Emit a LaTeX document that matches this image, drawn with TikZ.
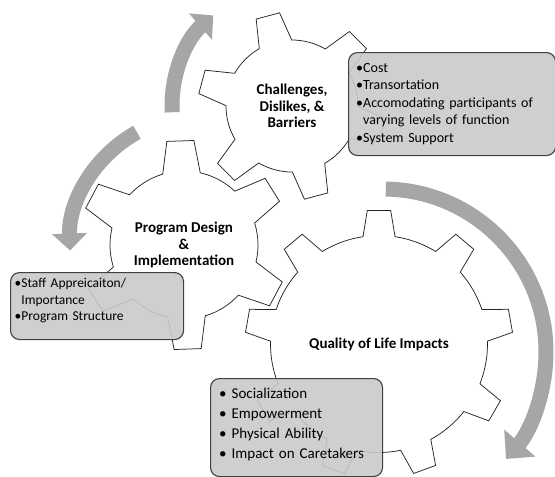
\documentclass[tikz,border=0pt]{standalone}
\usepackage{fontspec}
\setmainfont{Carlito}
\usetikzlibrary{arrows.meta,positioning,calc}
\definecolor{arrowgrey}{HTML}{A6A6A6}
\definecolor{boxgrey}{HTML}{CACACA}
\definecolor{edgegrey}{HTML}{404040}
\definecolor{gearedge}{HTML}{262626}
\tikzset{
  gearshape/.style  = {draw=gearedge, line width=0.75pt, fill=white, line join=miter},
  cycarrow/.style   = {draw=arrowgrey, line width=15pt, -{Triangle[width=34pt, length=17pt]}},
  infobox/.style    = {draw=edgegrey, line width=1.1pt, fill=boxgrey, fill opacity=0.9,
                       rounded corners=9pt, anchor=north west, inner sep=0pt},
  geartitle/.style  = {font=\fontsize{15}{16.5}\selectfont\bfseries, align=center, inner sep=0pt},
  itemtext/.style   = {anchor=base west, inner sep=0pt, align=left},
}
% gear outline: centre, outer radius, root radius, teeth, first tooth angle,
% half angle at the tip, half angle at the root
\newcommand{\gear}[7]{%
  \pgfmathsetmacro\gstep{360/#4}
  \draw[gearshape, shift={(#1)}] (#5-#7:#3)
    \foreach \k in {1,...,#4}{
      -- ({#5+(\k-1)*\gstep-#6}:#2) -- ({#5+(\k-1)*\gstep+#6}:#2)
      -- ({#5+(\k-1)*\gstep+#7}:#3)
      arc[start angle={#5+(\k-1)*\gstep+#7}, end angle={#5+\k*\gstep-#7}, radius=#3]
    } -- cycle;
}

\begin{document}
\begin{tikzpicture}[x=1pt, y=-1pt]
  \path[use as bounding box, fill=white] (0,0) rectangle (555,477);

  % gear centres
  \coordinate (barriers) at (292,106);
  \coordinate (design)   at (184,245);
  \coordinate (impacts)  at (379,344);

  % turning arrows round the gears
  \draw[cycarrow] ($(barriers)+(-183:120)$) arc[start angle=-183, end angle=-131, radius=120];
  \draw[cycarrow] ($(design)+(16,1)+(-119:130)$) arc[start angle=-119, end angle=-182, radius=130];
  \draw[cycarrow, -{Triangle[width=40pt, length=21pt]}]
    ($(impacts)+(4,8)+(-89:163)$) arc[start angle=-89, end angle=41, radius=163];

  % gears
  \gear{impacts}{134}{108.5}{9}{270}{5}{8.5}
  \gear{design}{105}{74}{6}{268}{7.4}{14.7}
  \gear{barriers}{94}{66}{6}{255}{7.4}{14.7}

  \node[geartitle] (barriers-title) at (barriers) {Challenges,\\Dislikes, \&\\Barriers};
  \node[geartitle] (design-title)   at (design)   {Program Design\\\&\\Implementation};
  \node[geartitle] (impacts-title)  at (impacts)  {Quality of Life Impacts};

  % lists beside each gear
  \node[infobox, minimum width=207pt, minimum height=103pt] (barbox) at (348,52) {};
  \node[itemtext, text width=195pt, font=\fontsize{14}{17.6}\selectfont] (barlist)
    at ($(barbox.north west)+(8,20)$)
    {\textbullet Cost\\
     \textbullet Transortation\\
     \textbullet Accomodating participants of\\
     \hphantom{\textbullet}varying levels of function\\
     \textbullet System Support};

  \node[infobox, minimum width=173pt, minimum height=67pt] (designbox) at (10,272) {};
  \node[itemtext, text width=165pt, font=\fontsize{13.5}{16.5}\selectfont] (designlist)
    at ($(designbox.north west)+(4.5,15.5)$)
    {\textbullet Staff Appreicaiton/\\
     \hphantom{\textbullet}Importance\\
     \textbullet Program Structure};

  \node[infobox, minimum width=172pt, minimum height=98pt] (impactbox) at (210,378) {};
  \node[itemtext, text width=160pt, font=\fontsize{15}{20}\selectfont] (impactlist)
    at ($(impactbox.north west)+(9,20)$)
    {\textbullet{} Socialization\\
     \textbullet{} Empowerment\\
     \textbullet{} Physical Ability\\
     \textbullet{} Impact on Caretakers};
\end{tikzpicture}
\end{document}
